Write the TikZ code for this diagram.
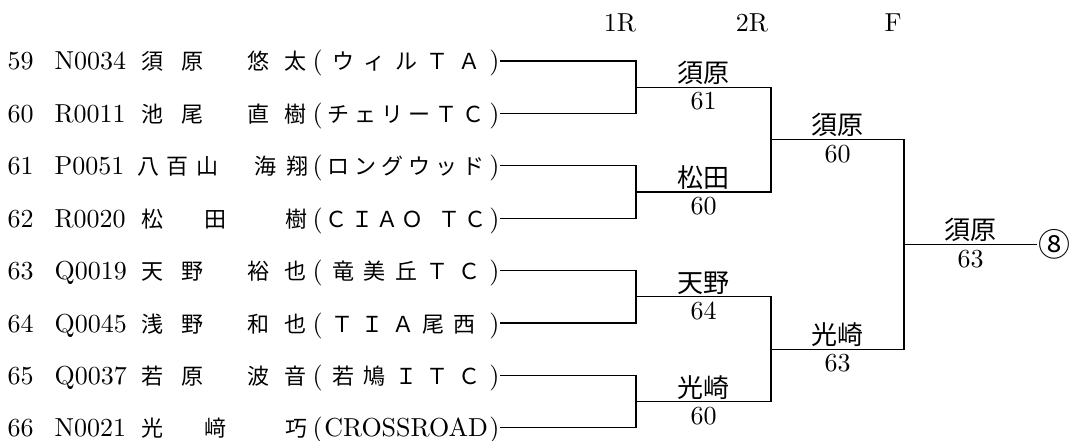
\documentclass[tikz,border=0pt]{standalone}
\usepackage{fontspec}
\setmainfont{lmroman10-regular.otf}
\newfontfamily\jp{Noto Sans CJK JP}
\newcommand{\club}[1]{\makebox[187pt][s]{(\hfill{\fontsize{22pt}{26pt}\selectfont\jp #1}\hfill)}}

\begin{document}
\begin{tikzpicture}[x=1pt, y=-1pt, line width=1.2pt,
    txt/.style={inner sep=0pt, text height=20pt, text depth=2pt, font=\fontsize{26pt}{28pt}\selectfont},
    kanji/.style={txt, font=\fontsize{22pt}{26pt}\selectfont\jp},
    winner/.style={txt, inner sep=2pt, anchor=south, font=\fontsize{26pt}{28pt}\selectfont\jp},
    score/.style={txt, inner sep=2pt, anchor=north}]
  \useasboundingbox (0,0) rectangle (1070,441);

  % rounds
  \node[txt] (r1) at (620,23) {1R};
  \node[txt] (r2) at (752,23) {2R};
  \node[txt] (r3) at (893,23) {F};

  % players
  \node[txt, anchor=west] (n59) at (7,61) {59};
  \node[txt, anchor=west] (c59) at (54,61) {N0034};
  \node[kanji, anchor=west] (f59) at (141,61) {須\hspace{18pt}原};
  \node[kanji, anchor=west] (g59) at (247,61) {悠\hspace{15pt}太};
  \node[txt, anchor=west] (t59) at (312,61) {\club{ウ\hfill ィ\hfill ル\hfill Ｔ\hfill Ａ}};

  \node[txt, anchor=west] (n60) at (7,113.4) {60};
  \node[txt, anchor=west] (c60) at (54,113.4) {R0011};
  \node[kanji, anchor=west] (f60) at (141,113.4) {池\hspace{18pt}尾};
  \node[kanji, anchor=west] (g60) at (247,113.4) {直\hspace{15pt}樹};
  \node[txt, anchor=west] (t60) at (312,113.4) {\club{チ\hfill ェ\hfill リ\hfill ー\hfill Ｔ\hfill Ｃ}};

  \node[txt, anchor=west] (n61) at (7,165.8) {61};
  \node[txt, anchor=west] (c61) at (54,165.8) {P0051};
  \node[kanji, anchor=west] (f61) at (137,165.8) {八\hspace{7pt}百\hspace{8pt}山};
  \node[kanji, anchor=west] (g61) at (254,165.8) {海\hspace{10pt}翔};
  \node[txt, anchor=west] (t61) at (312,165.8) {\club{ロ\hfill ン\hfill グ\hfill ウ\hfill ッ\hfill ド}};

  \node[txt, anchor=west] (n62) at (7,218.2) {62};
  \node[txt, anchor=west] (c62) at (54,218.2) {R0020};
  \node[kanji, anchor=west] (f62) at (141,218.2) {松\hspace{41pt}田};
  \node[kanji, anchor=west] (g62) at (285,218.2) {樹};
  \node[txt, anchor=west] (t62) at (312,218.2) {\club{Ｃ\hfill Ｉ\hfill Ａ\hfill Ｏ\hfill\hspace{12pt}Ｔ\hfill Ｃ}};

  \node[txt, anchor=west] (n63) at (7,270.6) {63};
  \node[txt, anchor=west] (c63) at (54,270.6) {Q0019};
  \node[kanji, anchor=west] (f63) at (141,270.6) {天\hspace{18pt}野};
  \node[kanji, anchor=west] (g63) at (247,270.6) {裕\hspace{15pt}也};
  \node[txt, anchor=west] (t63) at (312,270.6) {\club{竜\hfill 美\hfill 丘\hfill Ｔ\hfill Ｃ}};

  \node[txt, anchor=west] (n64) at (7,323) {64};
  \node[txt, anchor=west] (c64) at (54,323) {Q0045};
  \node[kanji, anchor=west] (f64) at (141,323) {浅\hspace{18pt}野};
  \node[kanji, anchor=west] (g64) at (247,323) {和\hspace{15pt}也};
  \node[txt, anchor=west] (t64) at (312,323) {\club{Ｔ\hfill Ｉ\hfill Ａ\hfill 尾\hfill 西\hspace{6pt}}};

  \node[txt, anchor=west] (n65) at (7,375.4) {65};
  \node[txt, anchor=west] (c65) at (54,375.4) {Q0037};
  \node[kanji, anchor=west] (f65) at (141,375.4) {若\hspace{18pt}原};
  \node[kanji, anchor=west] (g65) at (247,375.4) {波\hspace{15pt}音};
  \node[txt, anchor=west] (t65) at (312,375.4) {\club{若\hfill 鳩\hfill Ｉ\hfill Ｔ\hfill Ｃ}};

  \node[txt, anchor=west] (n66) at (7,427.8) {66};
  \node[txt, anchor=west] (c66) at (54,427.8) {N0021};
  \node[kanji, anchor=west] (f66) at (141,427.8) {光\hspace{41pt}﨑};
  \node[kanji, anchor=west] (g66) at (285,427.8) {巧};
  \node[txt, anchor=west] (t66) at (312,427.8) {\makebox[187pt][s]{(\hfill CROSSROAD\hfill)}};

  % bracket corners
  \coordinate (q1) at (636,87.2);
  \coordinate (q2) at (636,192);
  \coordinate (q3) at (636,296.8);
  \coordinate (q4) at (636,401.6);
  \coordinate (h1) at (771,139.6);
  \coordinate (h2) at (771,349.2);
  \coordinate (k) at (904,244.4);
  \coordinate (e) at (1037,244.4);

  \draw (t59.east) -| (q1) |- (t60.east);
  \draw (t61.east) -| (q2) |- (t62.east);
  \draw (t63.east) -| (q3) |- (t64.east);
  \draw (t65.east) -| (q4) |- (t66.east);
  \draw (q1) -| (h1) |- (q2);
  \draw (q3) -| (h2) |- (q4);
  \draw (h1) -| (k) |- (h2);
  \draw (k) -- (e);

  % winners
  \node[winner] (w1) at (703.5,87.2) {須原};
  \node[score] (s1) at (703.5,87.2) {61};
  \node[winner] (w2) at (703.5,192) {松田};
  \node[score] (s2) at (703.5,192) {60};
  \node[winner] (w3) at (703.5,296.8) {天野};
  \node[score] (s3) at (703.5,296.8) {64};
  \node[winner] (w4) at (703.5,401.6) {光崎};
  \node[score] (s4) at (703.5,401.6) {60};
  \node[winner] (w5) at (837.5,139.6) {須原};
  \node[score] (s5) at (837.5,139.6) {60};
  \node[winner] (w6) at (837.5,349.2) {光崎};
  \node[score] (s6) at (837.5,349.2) {63};
  \node[winner] (w7) at (970.5,244.4) {須原};
  \node[score] (s7) at (970.5,244.4) {63};

  \node[font=\fontsize{32pt}{34pt}\selectfont\jp, anchor=base west, inner sep=1pt] (rank) at ([yshift=-12pt]e) {⑧};
\end{tikzpicture}
\end{document}
